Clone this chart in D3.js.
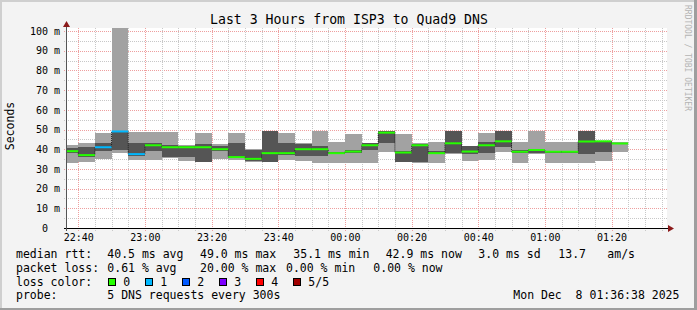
<!DOCTYPE html>
<html><head><meta charset="utf-8">
<script src="https://cdn.jsdelivr.net/npm/d3@7"></script>
<style>
html,body{margin:0;padding:0;background:#f3f3f3;overflow:hidden}
svg{display:block}
text{font-family:"DejaVu Sans Mono",monospace;white-space:pre}
</style>
</head><body>
<svg id="c" width="697" height="310"></svg>
<script>
// ---------------- data ----------------
const startTimes = ["22:35","22:40","22:45","22:50","22:55","23:00","23:05","23:10","23:15","23:20","23:25","23:30","23:35","23:40","23:45","23:50","23:55","00:00","00:05","00:10","00:15","00:20","00:25","00:30","00:35","00:40","00:45","00:50","00:55","01:00","01:05","01:10","01:15","01:20"];
const pingMin = [32.8,33.5,35.2,38.1,34.4,34.7,35.6,33.8,33.4,35.0,34.5,33.3,33.3,34.5,34.0,32.8,33.0,32.8,32.8,38.6,33.4,32.8,33.1,37.4,34.0,34.3,38.8,33.1,37.8,33.1,33.1,33.1,34.2,38.6];
const ping2   = [38.3,36.0,39.0,39.8,36.8,39.0,36.1,36.1,33.6,39.0,35.5,34.2,33.4,37.0,36.6,36.5,37.5,38.0,39.6,43.0,33.5,33.3,37.5,38.3,37.5,37.9,41.3,38.0,38.2,38.3,38.3,37.5,38.7,42.5];
const median  = [39.0,37.0,41.0,49.0,37.5,42.0,41.0,41.0,41.0,40.0,36.0,35.1,38.0,38.0,40.0,40.0,38.0,38.8,42.0,48.4,38.3,42.0,38.0,43.0,38.8,42.0,44.0,38.7,39.6,38.7,38.7,43.9,44.0,42.9];
const ping4   = [40.5,41.0,43.0,49.3,42.9,43.0,41.9,41.7,42.6,41.8,43.0,39.7,49.0,43.0,42.8,41.8,38.5,39.5,43.0,49.0,38.9,42.7,39.3,49.0,41.5,43.5,49.0,39.5,40.2,39.1,39.1,49.0,44.2,43.4];
const pingMax = [42.0,43.0,48.0,130,48.8,48.8,48.8,42.0,48.0,42.8,48.0,40.3,49.2,48.0,43.1,49.0,43.5,47.7,43.4,49.3,47.8,43.0,43.8,49.3,41.8,48.0,49.3,43.8,49.3,43.6,43.6,49.3,44.4,43.9];
const lossCount = [0,0,1,1,1,0,0,0,0,0,0,0,0,0,0,0,0,0,0,0,0,0,0,0,0,0,0,0,0,0,0,0,0,0];

const xTickLabels = ["22:40","23:00","23:20","23:40","00:00","00:20","00:40","01:00","01:20"];
const yTickValues = [0,10,20,30,40,50,60,70,80,90,100];
const yTickLabels = ["0","10 m","20 m","30 m","40 m","50 m","60 m","70 m","80 m","90 m","100 m"];

const lossColors = ["#26ff00","#00b8ff","#0059ff","#7e00ff","#ff0000","#a10000"];
const lossLabels = ["0","1","2","3","4","5/5"];

const titleText = "Last 3 Hours from ISP3 to Quad9 DNS";
const yAxisTitle = "Seconds";
const watermark = "RRDTOOL / TOBI OETIKER";
const rttLabel = "median rtt:";
const rttStats = ["40.5 ms avg","49.0 ms max","35.1 ms min","42.9 ms now","3.0 ms sd","13.7","am/s"];
const lossLabel = "packet loss:";
const lossStats = ["0.61 % avg","20.00 % max","0.00 % min","0.00 % now"];
const colorLabel = "loss color:";
const probeLabel = "probe:";
const probeText = "5 DNS requests every 300s";
const dateText = "Mon Dec  8 01:36:38 2025";
const windowStart = "2025-12-07 22:36:38";
const windowEnd   = "2025-12-08 01:36:38";

// ---------------- drawing ----------------
const W = 697, H = 310;
const L = 67, R = 667, T = 28, B = 228;
const svg = d3.select("#c");
const parseFull = d3.timeParse("%Y-%m-%d %H:%M:%S");
const toDate = s => { const h = +s.slice(0,2); return parseFull((h >= 12 ? "2025-12-07 " : "2025-12-08 ") + s + ":00"); };

const x = d3.scaleTime().domain([parseFull(windowStart), parseFull(windowEnd)]).range([L, R]);
const y = d3.scaleLinear().domain([0, 100]).range([B, 31]);

svg.append("rect").attr("width", W).attr("height", H).attr("fill", "#f3f3f3");
svg.append("rect").attr("x",0).attr("y",0).attr("width",W).attr("height",2).attr("fill","#cfcfcf");
svg.append("rect").attr("x",0).attr("y",0).attr("width",2).attr("height",H).attr("fill","#cfcfcf");
svg.append("rect").attr("x",0).attr("y",H-2).attr("width",W).attr("height",2).attr("fill","#9e9e9e");
svg.append("rect").attr("x",W-3).attr("y",0).attr("width",3).attr("height",H).attr("fill","#9e9e9e");

svg.append("rect").attr("x", L).attr("y", T).attr("width", R - L).attr("height", B - T).attr("fill", "#ffffff");

// grid
const g = svg.append("g");
const minorY = d3.range(5, 100, 5).filter(v => v % 10 !== 0);
const majorY = d3.range(10, 101, 10);
g.selectAll(".hmin").data(minorY).join("line")
  .attr("x1", L - 3).attr("x2", R).attr("y1", d => Math.round(y(d)) + 0.5).attr("y2", d => Math.round(y(d)) + 0.5)
  .attr("stroke", "#c8c8c8").attr("stroke-dasharray", "1,1");
g.selectAll(".hmaj").data(majorY).join("line")
  .attr("x1", L - 3).attr("x2", R).attr("y1", d => Math.round(y(d)) + 0.5).attr("y2", d => Math.round(y(d)) + 0.5)
  .attr("stroke", "#ee9f9f").attr("stroke-dasharray", "1,1");

const t40 = toDate("22:40");
const minorX = d3.timeMinute.every(5).range(t40, x.domain()[1]);
const majorX = xTickLabels.map(toDate);
const isMajor = d => majorX.some(m => +m === +d);
g.selectAll(".vmin").data(minorX.filter(d => !isMajor(d))).join("line")
  .attr("x1", d => Math.round(x(d)) + 0.5).attr("x2", d => Math.round(x(d)) + 0.5).attr("y1", T).attr("y2", B + 3)
  .attr("stroke", "#c8c8c8").attr("stroke-dasharray", "1,1");
g.selectAll(".vmaj").data(majorX).join("line")
  .attr("x1", d => Math.round(x(d)) + 0.5).attr("x2", d => Math.round(x(d)) + 0.5).attr("y1", T).attr("y2", B + 3)
  .attr("stroke", "#ee9f9f").attr("stroke-dasharray", "1,1");

// data
svg.append("clipPath").attr("id", "plotclip").append("rect").attr("x", L).attr("y", T).attr("width", R - L).attr("height", B - T);
const bars = startTimes.map((s, i) => {
  const t = toDate(s);
  return { t0: t, t1: d3.timeMinute.offset(t, 5), min: pingMin[i], p2: ping2[i], med: median[i], p4: ping4[i], max: pingMax[i], loss: lossCount[i] };
});
const dg = svg.append("g").attr("clip-path", "url(#plotclip)");
dg.selectAll(".light").data(bars).join("rect")
  .attr("x", d => x(d.t0)).attr("width", d => x(d.t1) - x(d.t0))
  .attr("y", d => y(d.max)).attr("height", d => y(d.min) - y(d.max))
  .attr("fill", "#a2a2a2").attr("shape-rendering", "crispEdges");
dg.selectAll(".dark").data(bars).join("rect")
  .attr("x", d => x(d.t0)).attr("width", d => x(d.t1) - x(d.t0))
  .attr("y", d => y(d.p4)).attr("height", d => y(d.p2) - y(d.p4))
  .attr("fill", "#555555").attr("shape-rendering", "crispEdges");
const stepPts = bars.map(d => [d.t0, d.med]).concat([[bars[bars.length - 1].t1, bars[bars.length - 1].med]]);
dg.append("path")
  .attr("d", d3.line().x(d => x(d[0])).y(d => y(d[1])).curve(d3.curveStepAfter)(stepPts))
  .attr("fill", "none").attr("stroke", "#202020").attr("stroke-width", 1).attr("stroke-dasharray", "1,1");
dg.selectAll(".med").data(bars).join("line")
  .attr("x1", d => x(d.t0)).attr("x2", d => x(d.t1))
  .attr("y1", d => y(d.med)).attr("y2", d => y(d.med))
  .attr("stroke", d => lossColors[d.loss]).attr("stroke-width", 2);

// axes lines & arrows
svg.append("line").attr("x1", L - 3).attr("x2", R + 2).attr("y1", B + 0.5).attr("y2", B + 0.5).attr("stroke", "#000").attr("stroke-width", 1);
svg.append("line").attr("x1", L - 0.5).attr("x2", L - 0.5).attr("y1", B + 3).attr("y2", T - 2).attr("stroke", "#555").attr("stroke-width", 1);
svg.append("path").attr("d", `M${R + 1},${B - 3} L${R + 7},${B + 0.5} L${R + 1},${B + 4} Z`).attr("fill", "#8b1a1a");
svg.append("path").attr("d", `M${L - 4},${T - 1} L${L - 0.5},${T - 7} L${L + 3},${T - 1} Z`).attr("fill", "#8b1a1a");

// tick labels via d3 axes
const fmtHM = d3.timeFormat("%H:%M");
const xa = svg.append("g").attr("transform", `translate(0,${B})`)
  .call(d3.axisBottom(x).tickValues(majorX).tickFormat((d, i) => xTickLabels[i]).tickSize(0).tickPadding(6));
xa.select(".domain").remove();
xa.selectAll("text").attr("font-family", "DejaVu Sans Mono").attr("font-size", "10px").attr("fill", "#000");

const ya = svg.append("g").attr("transform", `translate(${L},0)`)
  .call(d3.axisLeft(y).tickValues(yTickValues).tickFormat((d, i) => yTickLabels[i].includes(" ") ? yTickLabels[i] : yTickLabels[i] + "  ").tickSize(0).tickPadding(7));
ya.select(".domain").remove();
ya.selectAll("text").attr("font-family", "DejaVu Sans Mono").attr("font-size", "10px").attr("fill", "#000").style("white-space", "pre");

// title and labels
svg.append("text").attr("x", 349).attr("y", 23.5).attr("text-anchor", "middle").attr("font-size", "13.2px").attr("fill", "#000").text(titleText);
svg.append("text").attr("transform", "translate(14,126) rotate(-90)").attr("text-anchor", "middle").attr("font-size", "11.5px").attr("fill", "#000").text(yAxisTitle);
svg.append("text").attr("transform", "translate(685,5) rotate(90)").attr("font-size", "8px").attr("fill", "#b4b4b4").text(watermark);

// legend
const fs = "11.5px";
const line1 = 257.5, line2 = 271.5, line3 = 285.5, line4 = 299;
const addText = (xx, yy, s) => svg.append("text").attr("x", xx).attr("y", yy).attr("font-size", fs).attr("fill", "#000").text(s);
addText(16, line1, rttLabel);
[107.3, 200, 293.3, 385.7, 478.3, 558.3, 607.3].forEach((xx, i) => addText(xx, line1, rttStats[i]));
addText(16, line2, lossLabel);
[107.3, 200, 286, 373.3].forEach((xx, i) => addText(xx, line2, lossStats[i]));
addText(16, line3, colorLabel);
lossColors.forEach((c, i) => {
  const bx = 108.5 + i * 37;
  svg.append("rect").attr("x", bx).attr("y", 278.5).attr("width", 7).attr("height", 7).attr("fill", c).attr("stroke", "#000").attr("stroke-width", 1);
  addText(bx + 14.8, line3, lossLabels[i]);
});
addText(16, line4, probeLabel);
addText(107.3, line4, probeText);
addText(513.3, line4, dateText);
</script>
</body></html>
